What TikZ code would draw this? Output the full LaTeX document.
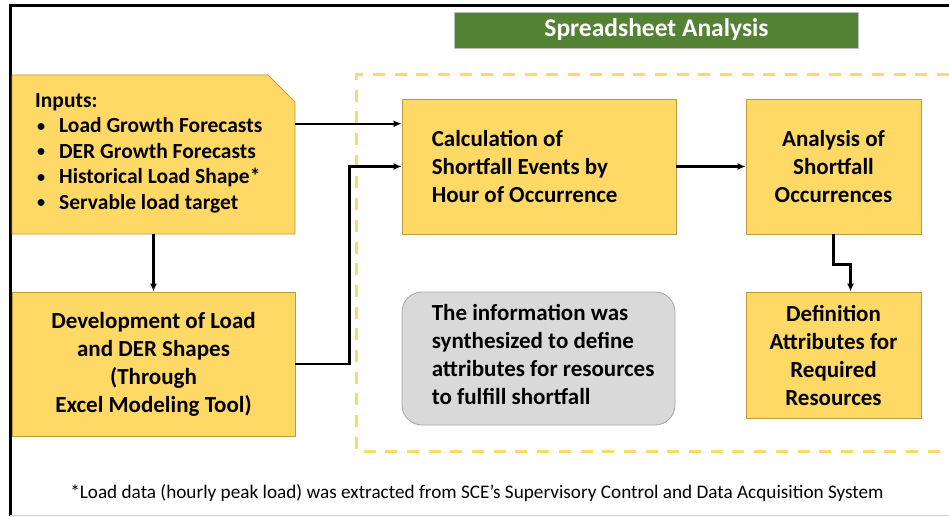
\documentclass[tikz,border=0pt]{standalone}
\usepackage{fontspec}
\setmainfont{Carlito}
\usetikzlibrary{arrows.meta,calc}
\definecolor{yfill}{HTML}{FFD966}
\definecolor{ybord}{HTML}{C09A3C}
\definecolor{gfill}{HTML}{D9D9D9}
\definecolor{gbord}{HTML}{A6A6A6}
\definecolor{titlegreen}{HTML}{548235}
\definecolor{dashy}{HTML}{FFD966}
\newcommand{\mybul}{\makebox[24pt][l]{\hspace{2pt}\raisebox{1.5pt}{\scalebox{0.75}{\textbullet}}}}
\begin{document}
\begin{tikzpicture}[x=1pt,y=-1pt,
  box/.style={draw=ybord, fill=yfill, line width=0.8pt, inner sep=0pt, font=\bfseries\fontsize{23}{28}\selectfont},
  boxtext/.style={inner sep=0pt, align=left, font=\bfseries\fontsize{23}{28}\selectfont},
  arr/.style={line width=2.2pt, -{Latex[length=8pt,width=7pt]}}]
\useasboundingbox (0,0) rectangle (949,516);
\fill[white] (0,0) rectangle (949,516);
% frame
\draw[line width=3pt] (10,516) -- (10,6) -- (949,6);
\draw[gray!40, line width=1pt] (10,515) -- (949,515);
% title
\node[fill=titlegreen, draw=gray!50, line width=0.8pt, minimum width=404pt, minimum height=36pt, inner sep=0pt, text=white, font=\bfseries\fontsize{25.5}{28}\selectfont] (title) at (656.5,30) {Spreadsheet Analysis};
% dashed region
\draw[dashy, line width=3pt, dash pattern=on 12pt off 9.7pt] (949,75) -- (356,75) -- (356,451) -- (949,451);
% inputs
\filldraw[fill=yfill, draw=ybord, line width=0.8pt] (12,75) -- (268,75) -- (295,102) -- (295,234) -- (12,234) -- cycle;
\node[minimum width=283pt, minimum height=159pt, inner sep=0pt] (inputs) at (153.5,154.5) {};
\node[anchor=base west, inner sep=0pt, font=\bfseries\fontsize{21.5}{25.5}\selectfont] (inputstext) at (35,107) {\begin{tabular}[t]{@{}l@{}}Inputs:\\
\mybul Load Growth Forecasts\\
\mybul DER Growth Forecasts\\
\mybul Historical Load Shape*\\
\mybul Servable load target\end{tabular}};
% development
\node[box, minimum width=283pt, minimum height=144pt, align=center] (dev) at (153.5,364) {Development of Load\\and DER Shapes\\(Through\\Excel Modeling Tool)};
% calculation
\node[box, minimum width=274pt, minimum height=135pt] (calc) at (539,166.5) {};
\node[boxtext, anchor=west] (calctext) at ($(calc.west)+(30,0)$) {Calculation of\\Shortfall Events by\\Hour of Occurrence};
% analysis
\node[box, minimum width=175pt, minimum height=135pt, align=center] (analysis) at (833.5,166.5) {Analysis of\\Shortfall\\Occurrences};
% definition
\node[box, minimum width=175pt, minimum height=126pt, align=center] (def) at (833.5,355) {Definition\\Attributes for\\Required\\Resources};
% info
\node[draw=gbord, fill=gfill, line width=0.8pt, rounded corners=20pt, minimum width=273pt, minimum height=133pt, inner sep=0pt] (info) at (538.5,358.5) {};
\node[boxtext, anchor=west] (infotext) at ($(info.west)+(30,-4.5)$) {The information was\\synthesized to define\\attributes for resources\\to fulfill shortfall};
% footnote
\node[inner sep=0pt, font=\fontsize{19.2}{22}\selectfont] (note) at (477,493) {*Load data (hourly peak load) was extracted from SCE’s Supervisory Control and Data Acquisition System};
% connectors
\coordinate (c1) at ($(calc.north west)!0.185!(calc.south west)$);
\draw[arr] (inputs.east |- c1) -- (c1);
\draw[arr] (dev.east) -- ++(54,0) |- (calc.west);
\draw[arr] (calc.east) -- (analysis.west);
\draw[arr] (inputs.south) -- (dev.north);
\draw[arr] (analysis.south) -- ++(0,30) -| ($(def.north)+(17,0)$);
\end{tikzpicture}
\end{document}
